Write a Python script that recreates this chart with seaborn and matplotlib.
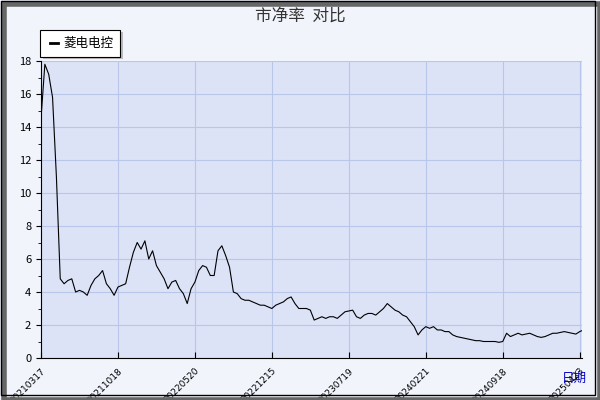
import matplotlib
matplotlib.use("Agg")
import matplotlib.pyplot as plt
import seaborn as sns
import pandas as pd
from matplotlib.patches import Rectangle

seg1 = [14.5, 17.8, 17.2, 15.8, 11, 4.8, 4.5, 4.7, 4.8, 4.0, 4.1, 4.0, 3.8, 4.4, 4.8, 5.0, 5.3, 4.5, 4.2, 3.8]
seg2 = [4.3, 4.4, 4.5, 5.5, 6.4, 7.0, 6.6, 7.1, 6.0, 6.5, 5.6, 5.2, 4.8, 4.2, 4.6, 4.7, 4.2, 3.9, 3.3, 4.2]
seg3 = [4.6, 5.3, 5.6, 5.5, 5.0, 5.0, 6.5, 6.8, 6.2, 5.5, 4.0, 3.9, 3.6, 3.5, 3.5, 3.4, 3.3, 3.2, 3.2, 3.1]
seg4 = [3.0, 3.2, 3.3, 3.4, 3.6, 3.7, 3.3, 3.0, 3.0, 3.0, 2.9, 2.3, 2.4, 2.5, 2.4, 2.5, 2.5, 2.4, 2.6, 2.8]
seg5 = [2.85, 2.9, 2.5, 2.4, 2.6, 2.7, 2.7, 2.6, 2.8, 3.0, 3.3, 3.1, 2.9, 2.8, 2.6, 2.5, 2.2, 1.9, 1.4, 1.7]
seg6 = [1.9, 1.8, 1.9, 1.7, 1.7, 1.6, 1.6, 1.4, 1.3, 1.25, 1.2, 1.15, 1.1, 1.05, 1.05, 1.0, 1.0, 1.0, 1.0, 0.95]
seg7 = [1.0, 1.5, 1.3, 1.4, 1.5, 1.4, 1.45, 1.5, 1.4, 1.3, 1.25, 1.3, 1.4, 1.5, 1.5, 1.55, 1.6, 1.55, 1.5, 1.45, 1.6, 1.7]
pb_values = seg1 + seg2 + seg3 + seg4 + seg5 + seg6 + seg7
tick_labels = ["20210317", "20211018", "20220520", "20221215", "20230719", "20240221", "20240918", "20250423"]
series_name = "菱电电控"

plt.rcParams['font.family'] = ['Noto Sans CJK SC', 'DejaVu Sans']
df = pd.DataFrame({"idx": range(len(pb_values)), "pb": pb_values})

fig = plt.figure(figsize=(6, 4), dpi=100, facecolor="#F2F4FC")
ax = fig.add_axes([41/600, 1-358/400, (582-41)/600, (358-61)/400])
ax.set_facecolor("#DCE3F7")
sns.lineplot(data=df, x="idx", y="pb", ax=ax, color="black", linewidth=0.8, legend=False)
ax.set_xlim(0, 140.6)
ax.set_ylim(0, 18)
ax.set_yticks(range(0, 19, 2))
ax.set_yticks(range(1, 18, 2), minor=True)
ax.set_xticks([i*20 for i in range(len(tick_labels))])
ax.set_xticklabels(tick_labels, rotation=45, ha="right", va="top", rotation_mode="anchor",
                   fontsize=6.5, family="DejaVu Sans")
ax.tick_params(axis="y", labelsize=8, direction="out")
ax.tick_params(axis="x", direction="in", length=4, pad=6)
ax.grid(True, color="#B8C6EA", linewidth=0.8)
ax.set_xlabel(""); ax.set_ylabel("")
for s in ["top", "right"]:
    ax.spines[s].set_visible(False)
fig.text(0.5, 0.96, "市净率  对比", ha="center", va="center", fontsize=12, color="#333333")
fig.text(0.958, 0.055, "日期", ha="center", va="center", fontsize=9, color="#0000CC")
# legend box
fig.patches.append(Rectangle((43/600, 1-59/400), 80/600, 27/400, transform=fig.transFigure, facecolor="#BBBBBB", edgecolor="none"))
fig.patches.append(Rectangle((40/600, 1-57/400), 80/600, 27/400, transform=fig.transFigure, facecolor="white", edgecolor="black", linewidth=0.8))
fig.lines.append(matplotlib.lines.Line2D([50/600, 58/600], [1-43/400]*2, transform=fig.transFigure, color="black", linewidth=2))
fig.text(63/600, 1-43/400, series_name, va="center", fontsize=9)
# outer frame with shadow
fig.patches.append(Rectangle((4/600, 0), 596/600, 396/400, transform=fig.transFigure, facecolor="none", edgecolor="#666666", linewidth=4))
fig.patches.append(Rectangle((1/600, 5/400), 594/600, 394/400, transform=fig.transFigure, facecolor="none", edgecolor="black", linewidth=1))
fig.savefig("out.png", dpi=100, facecolor=fig.get_facecolor())
